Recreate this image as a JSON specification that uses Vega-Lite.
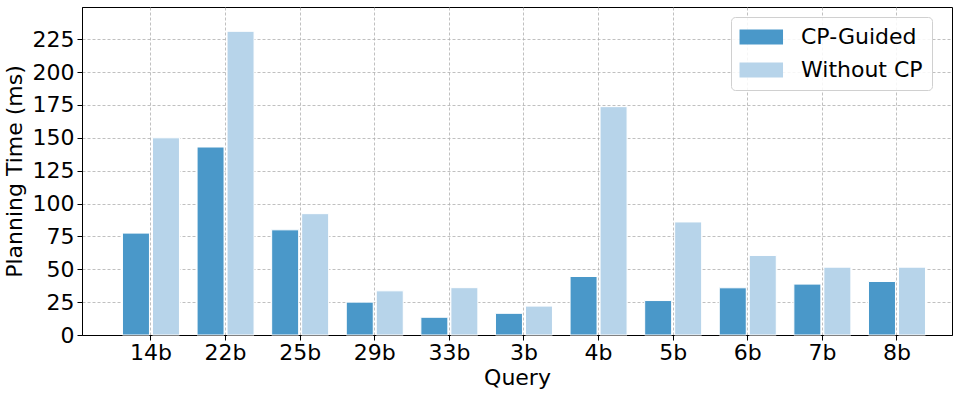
{
  "$schema": "https://vega.github.io/schema/vega-lite/v6.json",
  "width": 870,
  "height": 328,
  "autosize": {"type": "none"},
  "padding": {"left": 82, "top": 7, "right": 20, "bottom": 62},
  "config": {
    "font": "DejaVu Sans",
    "view": {"stroke": "black", "strokeWidth": 1},
    "axis": {
      "labelFont": "DejaVu Sans",
      "titleFont": "DejaVu Sans",
      "labelFontSize": 22,
      "titleFontSize": 22,
      "titleFontWeight": "normal",
      "labelColor": "black",
      "titleColor": "black",
      "domainColor": "black",
      "tickColor": "black",
      "tickSize": 5,
      "gridColor": "#b0b0b0",
      "gridDash": [3, 2],
      "gridWidth": 0.8,
      "zindex": 1
    }
  },
  "data": {
    "values": [
      {"query": "14b", "method": "CP-Guided", "time": 77.5},
      {"query": "14b", "method": "Without CP", "time": 150},
      {"query": "22b", "method": "CP-Guided", "time": 143},
      {"query": "22b", "method": "Without CP", "time": 231},
      {"query": "25b", "method": "CP-Guided", "time": 80},
      {"query": "25b", "method": "Without CP", "time": 92.3},
      {"query": "29b", "method": "CP-Guided", "time": 25},
      {"query": "29b", "method": "Without CP", "time": 33.6},
      {"query": "33b", "method": "CP-Guided", "time": 13.5},
      {"query": "33b", "method": "Without CP", "time": 36},
      {"query": "3b", "method": "CP-Guided", "time": 16.5},
      {"query": "3b", "method": "Without CP", "time": 22},
      {"query": "4b", "method": "CP-Guided", "time": 44.5},
      {"query": "4b", "method": "Without CP", "time": 173.7},
      {"query": "5b", "method": "CP-Guided", "time": 26.2},
      {"query": "5b", "method": "Without CP", "time": 86},
      {"query": "6b", "method": "CP-Guided", "time": 35.9},
      {"query": "6b", "method": "Without CP", "time": 60.5},
      {"query": "7b", "method": "CP-Guided", "time": 38.7},
      {"query": "7b", "method": "Without CP", "time": 51.6},
      {"query": "8b", "method": "CP-Guided", "time": 40.7},
      {"query": "8b", "method": "Without CP", "time": 51.6}
    ]
  },
  "mark": {"type": "bar", "stroke": "white", "strokeWidth": 1},
  "encoding": {
    "x": {
      "field": "query",
      "type": "nominal",
      "sort": null,
      "scale": {"paddingInner": 0.236, "paddingOuter": 0.449, "align": 0.604},
      "axis": {
        "title": "Query",
        "labelAngle": 0,
        "labelPadding": 2,
        "titlePadding": 4,
        "grid": true,
        "bandPosition": 0.5
      }
    },
    "xOffset": {
      "field": "method",
      "type": "nominal",
      "scale": {"paddingInner": 0.1, "paddingOuter": 0}
    },
    "y": {
      "field": "time",
      "type": "quantitative",
      "scale": {"domain": [0, 249.5], "nice": false},
      "axis": {
        "title": "Planning Time (ms)",
        "values": [0, 25, 50, 75, 100, 125, 150, 175, 200, 225],
        "labelPadding": 3,
        "titlePadding": 6,
        "grid": true
      }
    },
    "color": {
      "field": "method",
      "type": "nominal",
      "scale": {"domain": ["CP-Guided", "Without CP"], "range": ["#4a98c9", "#b7d4ea"]},
      "legend": {
        "title": null,
        "orient": "none",
        "legendX": 649,
        "legendY": 10,
        "padding": 9,
        "strokeColor": "#d0d0d0",
        "fillColor": "rgba(255,255,255,0.85)",
        "cornerRadius": 4,
        "labelFont": "DejaVu Sans",
        "labelFontSize": 22,
        "labelColor": "black",
        "labelOffset": 39,
        "symbolType": "M-1.53,-1L4.27,-1L4.27,1L-1.53,1Z",
        "symbolSize": 225,
        "symbolStrokeWidth": 0,
        "symbolOpacity": 1,
        "rowPadding": 11
      }
    }
  }
}
